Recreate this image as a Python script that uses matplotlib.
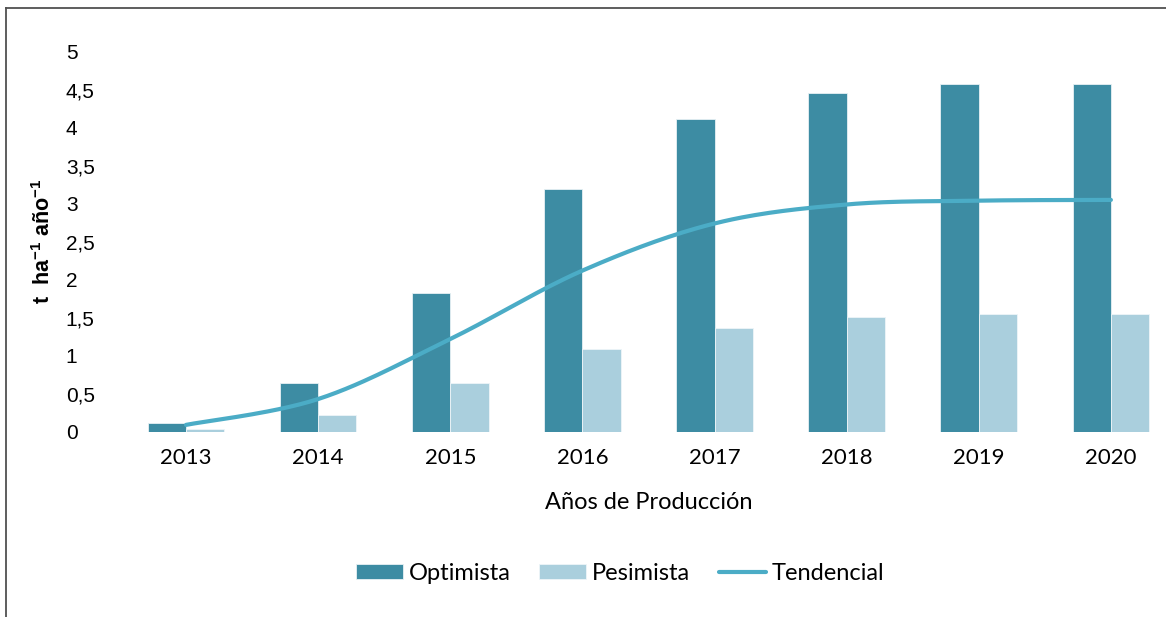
import matplotlib
matplotlib.use('Agg')
import matplotlib.pyplot as plt
from matplotlib.lines import Line2D
import numpy as np

years = ['2013', '2014', '2015', '2016', '2017', '2018', '2019', '2020']
optimista = [0.11, 0.64, 1.83, 3.20, 4.11, 4.46, 4.57, 4.57]
pesimista = [0.04, 0.22, 0.64, 1.09, 1.37, 1.51, 1.55, 1.55]
tendencial = [0.09, 0.43, 1.22, 2.12, 2.74, 2.99, 3.04, 3.05]
yticks = [0, 0.5, 1, 1.5, 2, 2.5, 3, 3.5, 4, 4.5, 5]
ytick_labels = ['0', '0,5', '1', '1,5', '2', '2,5', '3', '3,5', '4', '4,5', '5']

c_opt = '#3d8ca3'
c_pes = '#aacfdd'
c_tend = '#4bacc6'

plt.rcParams['mathtext.fontset'] = 'custom'
plt.rcParams['mathtext.rm'] = 'Liberation Sans:bold'
plt.rcParams['mathtext.bf'] = 'Liberation Sans:bold'


def smooth(xs, ys, n=30):
    # catmull-rom, like excel's smoothed line
    pts = np.column_stack([xs, ys]).astype(float)
    pts = np.vstack([pts[0], pts, pts[-1]])
    out = []
    t = np.linspace(0, 1, n)
    for i in range(1, len(pts) - 2):
        p0, p1, p2, p3 = pts[i - 1], pts[i], pts[i + 1], pts[i + 2]
        c1 = p1 + (p2 - p0) / 6
        c2 = p2 - (p3 - p1) / 6
        seg = ((1 - t) ** 3)[:, None] * p1 + (3 * (1 - t) ** 2 * t)[:, None] * c1 \
            + (3 * (1 - t) * t ** 2)[:, None] * c2 + (t ** 3)[:, None] * p2
        out.append(seg)
    out = np.vstack(out)
    return out[:, 0], out[:, 1]


fig = plt.figure(figsize=(11.66, 6.17), dpi=100)
ax = fig.add_axes([0.1029, 0.3003, 0.9065, 0.6159])

x = np.arange(len(years))
w = 0.29
b1 = ax.bar(x - w / 2, optimista, w, color=c_opt, edgecolor='#e8f1f4', linewidth=0.6, label='Optimista')
b2 = ax.bar(x + w / 2, pesimista, w, color=c_pes, edgecolor='#eef5f8', linewidth=0.6, label='Pesimista')
sx, sy = smooth(x, tendencial)
l1, = ax.plot(sx, sy, color=c_tend, lw=3, solid_capstyle='round', label='Tendencial', clip_on=False)

ax.set_xlim(-0.5, 7.5)
ax.set_ylim(0, 5)
ax.set_xticks(x)
ax.set_xticklabels(years, fontfamily='Lato', fontsize=16)
ax.set_yticks(yticks)
ax.set_yticklabels(ytick_labels, fontfamily='Liberation Sans', fontsize=15)
for lab in ax.get_yticklabels():
    lab.set_horizontalalignment('left')
ax.tick_params(axis='y', length=0, pad=39)
ax.tick_params(axis='x', length=0, pad=12)

for s in ax.spines.values():
    s.set_visible(False)

ax.set_xlabel('Años de Producción', fontfamily='Lato', fontsize=17, labelpad=17)
ax.set_ylabel(r't  ha$^{-1}$ año$^{-1}$', fontfamily='Liberation Sans', fontweight='bold',
              fontsize=15.5, va='center')
ax.yaxis.set_label_coords(-0.072, 0.5)

fig.legend([b1, b2, l1], ['Optimista', 'Pesimista', 'Tendencial'],
           loc='center', bbox_to_anchor=(620 / 1166, 1 - 573 / 617), ncol=3, frameon=False,
           prop={'family': 'Lato', 'size': 17}, handlelength=2.0, handleheight=0.6,
           handletextpad=0.25, columnspacing=1.2)

# frame lines at left and top
fig.add_artist(Line2D([6 / 1166, 6 / 1166], [0, 1 - 8 / 617], color='#505050', lw=1.3))
fig.add_artist(Line2D([6 / 1166, 1], [1 - 8 / 617, 1 - 8 / 617], color='#505050', lw=1.3))

fig.savefig('out.png', dpi=100)
